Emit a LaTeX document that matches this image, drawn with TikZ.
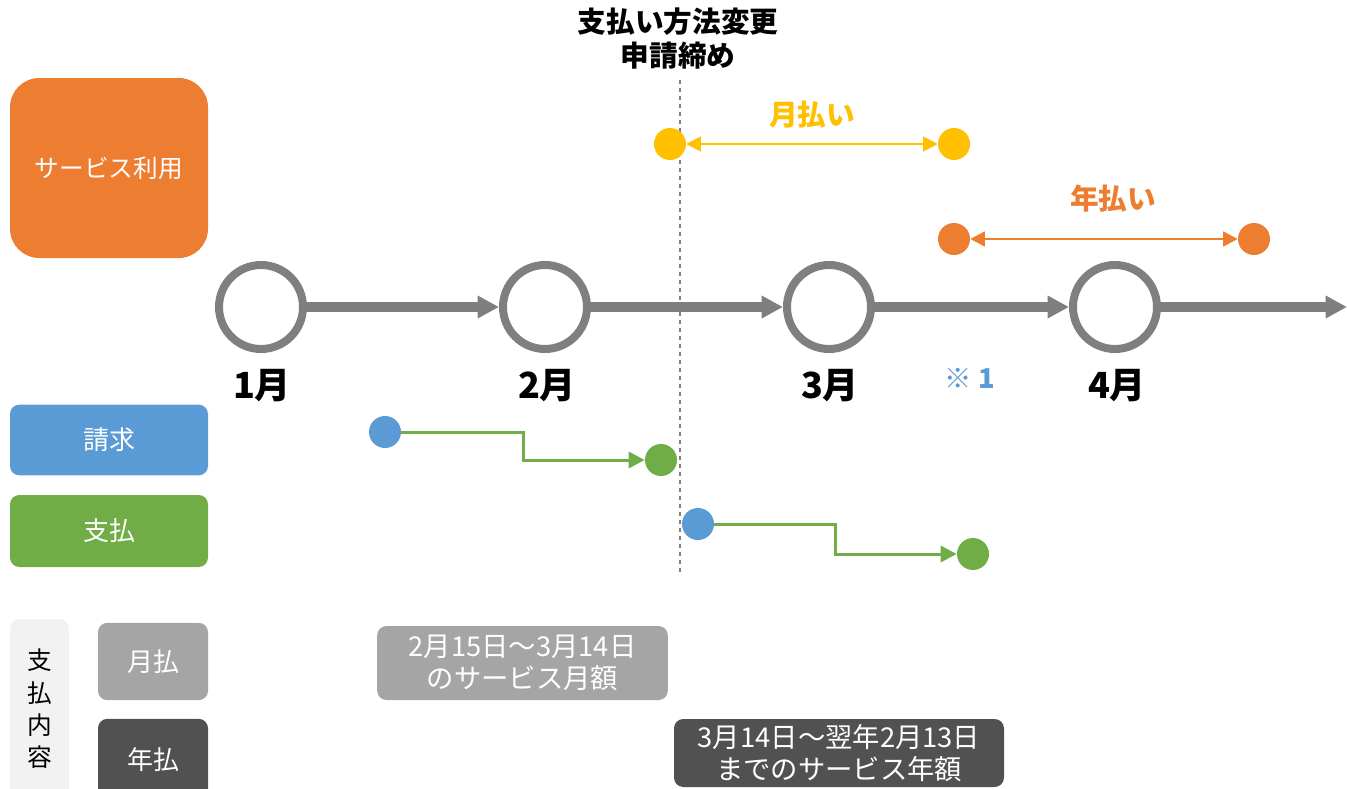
\documentclass[tikz,border=0pt]{standalone}
\usepackage{fontspec}
\setmainfont{Noto Sans CJK JP}
\usetikzlibrary{arrows.meta}
\definecolor{svc_orange}{HTML}{ED7D31}
\definecolor{bill_blue}{HTML}{5B9BD5}
\definecolor{pay_green}{HTML}{70AD47}
\definecolor{month_yellow}{HTML}{FFC000}
\definecolor{line_gray}{HTML}{7F7F7F}
\definecolor{fee_gray}{HTML}{A5A5A5}
\definecolor{fee_dark}{HTML}{515151}
\definecolor{side_gray}{HTML}{F2F2F2}

\begin{document}
\begin{tikzpicture}[x=0.75pt,y=-0.75pt,
  box/.style={rectangle,rounded corners=7pt,inner sep=0pt,text=white,align=center,font=\fontsize{19.5}{23}\selectfont},
  month/.style={circle,draw=line_gray,line width=6pt,minimum size=63pt,inner sep=0pt},
  bead/.style={circle,inner sep=0pt,minimum size=24pt},
  mlabel/.style={font=\fontsize{27}{31}\selectfont\bfseries},
  flow/.style={pay_green,line width=2.25pt,-{Triangle[length=12pt,width=12pt]}}]
\useasboundingbox (0,0) rectangle (1347,789);
\clip (0,0) rectangle (1347,789);

\node[box,fill=svc_orange,rounded corners=22pt,minimum width=148.5pt,minimum height=135pt,font=\fontsize{18.5}{22}\selectfont] (use) at (109,168) {サービス利用};
\node[box,fill=bill_blue,minimum width=148.5pt,minimum height=53pt] (bill) at (109,440) {請求};
\node[box,fill=pay_green,minimum width=148.5pt,minimum height=54pt] (pay) at (109,531) {支払};
\node[box,fill=side_gray,text=black,minimum width=44pt,minimum height=135pt,font=\fontsize{18.5}{24.3}\selectfont] (kind) at (39.5,709) {支\\払\\内\\容};
\node[box,fill=fee_gray,minimum width=82.5pt,minimum height=58pt] (mon) at (153,661.5) {月払};
\node[box,fill=fee_dark,minimum width=82.5pt,minimum height=61pt] (yr) at (153,759.5) {年払};
\node[box,fill=fee_gray,minimum width=218pt,minimum height=55.5pt,font=\fontsize{20.5}{24}\selectfont] (mfee) at (522.5,663) {2月15日～3月14日\\のサービス月額};
\node[box,fill=fee_dark,minimum width=247.5pt,minimum height=51pt,font=\fontsize{20.5}{24}\selectfont] (yfee) at (839,753) {3月14日～翌年2月13日\\までのサービス年額};

\node[font=\fontsize{21.5}{25.5}\selectfont\bfseries,align=center] (deadline) at (678,39) {支払い方法変更\\申請締め};
\coordinate (cuttop) at (680,80);
\coordinate (cutbot) at (680,572);
\draw[line_gray,line width=1.1pt,dash pattern=on 3pt off 3pt] (cuttop) -- (cutbot);

\node[month] (m1) at (261,307) {};
\node[month] (m2) at (545,307) {};
\node[month] (m3) at (829,307) {};
\node[month] (m4) at (1115,307) {};
\coordinate (tend) at (1347,307);
\draw[line_gray,line width=8pt,-{Triangle[length=16pt,width=16pt]}] (m1) -- (m2);
\draw[line_gray,line width=8pt,-{Triangle[length=16pt,width=16pt]}] (m2) -- (m3);
\draw[line_gray,line width=8pt,-{Triangle[length=16pt,width=16pt]}] (m3) -- (m4);
\draw[line_gray,line width=8pt,-{Triangle[length=16pt,width=16pt]}] (m4) -- (tend);
\node[mlabel] (l1) at (262,386) {1月};
\node[mlabel] (l2) at (547,386) {2月};
\node[mlabel] (l3) at (830,386) {3月};
\node[mlabel] (l4) at (1117,386) {4月};
\node[font=\fontsize{20.5}{24}\selectfont\bfseries,text=bill_blue] (note) at (970,378) {※ 1};

\node[bead,fill=month_yellow] (y1) at (670,144) {};
\node[bead,fill=month_yellow] (y2) at (954,144) {};
\draw[month_yellow,line width=2pt,{Triangle[length=11pt,width=11pt]}-{Triangle[length=11pt,width=11pt]}] (y1) -- (y2);
\node[font=\fontsize{21.5}{25}\selectfont\bfseries,text=month_yellow] (lmon) at (812,115) {月払い};

\node[bead,fill=svc_orange] (o1) at (954,239) {};
\node[bead,fill=svc_orange] (o2) at (1254,239) {};
\draw[svc_orange,line width=2pt,{Triangle[length=11pt,width=11pt]}-{Triangle[length=11pt,width=11pt]}] (o1) -- (o2);
\node[font=\fontsize{21.5}{25}\selectfont\bfseries,text=svc_orange] (lyr) at (1113,199) {年払い};

\node[bead,fill=bill_blue] (b1) at (385,432) {};
\node[bead,fill=pay_green] (g1) at (661,460) {};
\coordinate (k1) at (523,460);
\draw[flow] (b1) -| (k1) -- (g1);
\node[bead,fill=bill_blue] (b2) at (698,524) {};
\node[bead,fill=pay_green] (g2) at (973,554) {};
\coordinate (k2) at (835,554);
\draw[flow] (b2) -| (k2) -- (g2);
\end{tikzpicture}
\end{document}
